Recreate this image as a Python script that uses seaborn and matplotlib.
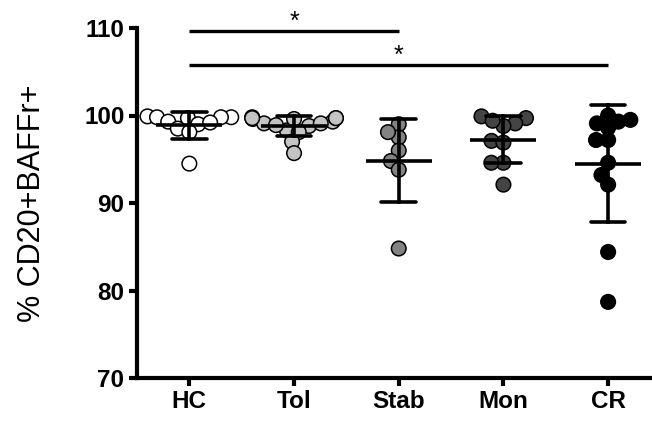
import warnings
warnings.filterwarnings("ignore")
import numpy as np
import pandas as pd
import matplotlib
matplotlib.use("Agg")
import matplotlib.pyplot as plt
import seaborn as sns

groups = ["HC", "Tol", "Stab", "Mon", "CR"]
hc = [99.8, 99.9, 99.8, 99.8, 99.7, 99.3, 99.0, 99.2, 98.5, 98.1, 94.5]
tol = [99.3, 99.8, 99.6, 99.7, 98.8, 99.1, 98.3, 98.1, 99.7, 99.6, 99.7, 99.1, 98.9, 97.0, 95.7]
stab = [99.0, 97.5, 98.1, 96.0, 94.8, 93.8, 84.8]
mon = [99.7, 99.1, 99.9, 98.8, 99.4, 97.1, 96.9, 94.6, 94.6, 92.1]
cr = [99.1, 100.0, 99.3, 98.6, 99.5, 97.2, 97.2, 94.6, 93.2, 92.1, 84.4, 78.7]
fills = ["#ffffff", "#c4c4c4", "#838383", "#444444", "#000000"]
yticks = [70, 80, 90, 100, 110]
ylabel = "% CD20+BAFFr+"
sig_pairs = [("HC", "Stab"), ("HC", "CR")]
sig_y = [109.7, 105.8]

sns.set_style("white")
plt.rcParams["font.family"] = ["Liberation Sans", "DejaVu Sans"]

values = [hc, tol, stab, mon, cr]
df = pd.DataFrame({
    "group": np.repeat(groups, [len(v) for v in values]),
    "value": np.concatenate(values),
})

fig = plt.figure(figsize=(6.52, 4.21), dpi=100)
ax = fig.add_axes([137 / 652, 43 / 421, 513 / 652, 350 / 421])

# swarm layout computed with a compact marker, then markers enlarged so they overlap
sns.swarmplot(data=df, x="group", y="value", hue="group", order=groups,
              hue_order=groups, palette=fills, size=7.2, edgecolor="black",
              linewidth=1.1, legend=False, ax=ax, zorder=2)
ax.set_xlim(-0.5, 4.4)
ax.set_ylim(70, 110)
fig.canvas.draw()
for coll in list(ax.collections):
    if "draw" in coll.__dict__:
        del coll.draw
    coll.set_sizes([10.5 ** 2])

sns.pointplot(data=df, x="group", y="value", order=groups, errorbar="sd",
              capsize=0.33, linestyle="none", marker="_", markersize=48,
              markeredgewidth=2.6, color="black",
              err_kws={"linewidth": 2.6}, ax=ax, zorder=3)

for (a, b), yy in zip(sig_pairs, sig_y):
    xa, xb = groups.index(a), groups.index(b)
    ax.plot([xa, xb], [yy, yy], color="black", lw=2.4, clip_on=False,
            solid_capstyle="butt")
    ax.text((xa + xb) / 2, yy + 0.25, "*", ha="center", va="baseline",
            fontsize=18, color="black", clip_on=False)

ax.set_xlim(-0.5, 4.4)
ax.set_ylim(70, 110)
ax.set_yticks(yticks)
ax.set_xlabel("")
ax.set_ylabel(ylabel, fontsize=22, labelpad=27, color="black")
for s in ["top", "right"]:
    ax.spines[s].set_visible(False)
for s in ["left", "bottom"]:
    ax.spines[s].set_linewidth(3)
    ax.spines[s].set_color("black")
ax.tick_params(axis="both", which="major", length=6, width=3, color="black",
               labelcolor="black", labelsize=17.5, direction="out",
               left=True, bottom=True, pad=3)
for lab in ax.get_xticklabels() + ax.get_yticklabels():
    lab.set_fontweight("bold")

fig.savefig("out.png", dpi=100)
